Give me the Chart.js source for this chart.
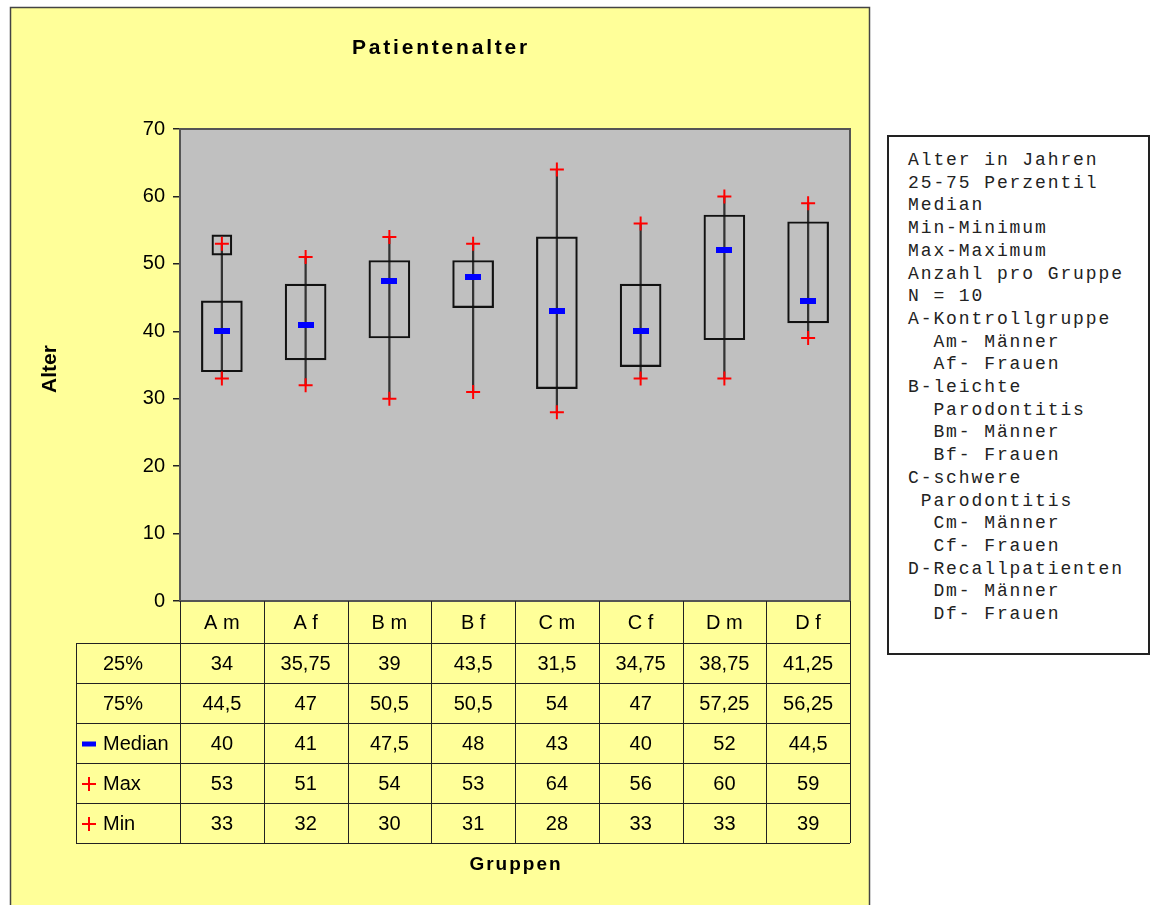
<!DOCTYPE html>
<html>
<head>
<meta charset="utf-8">
<script src="https://cdn.jsdelivr.net/npm/chart.js@4/dist/chart.umd.min.js"></script>
<style>
html,body{margin:0;padding:0;background:#fff;}
#wrap{position:relative;width:1152px;height:905px;overflow:hidden;}
#c{position:absolute;left:0;top:0;}
#note{position:absolute;left:887px;top:135px;width:263px;height:520px;border:2px solid #222;background:#fff;box-sizing:border-box;
  font-family:'Liberation Mono','Courier New',monospace;font-size:18px;letter-spacing:1.9px;line-height:22.7px;white-space:pre;
  padding:12px 0 0 19px;color:#222;}
</style>
</head>
<body>
<div id="wrap">
<canvas id="c" width="1152" height="905"></canvas>
<div id="note"></div>
</div>
<script>
// ---- data ----
const groups   = ['A m','A f','B m','B f','C m','C f','D m','D f'];
const p25      = [34, 35.75, 39, 43.5, 31.5, 34.75, 38.75, 41.25];
const p75      = [44.5, 47, 50.5, 50.5, 54, 47, 57.25, 56.25];
const medians  = [40, 41, 47.5, 48, 43, 40, 52, 44.5];
const maxima   = [53, 51, 54, 53, 64, 56, 60, 59];
const minima   = [33, 32, 30, 31, 28, 33, 33, 39];
const extraLow  = [51.3, null, null, null, null, null, null, null];
const extraHigh = [54.3, null, null, null, null, null, null, null];
const yMin = 0, yMax = 70, yStep = 10;
const rowLabels = ['25%', '75%', 'Median', 'Max', 'Min'];
const titleText = 'Patientenalter';
const yTitle = 'Alter';
const xTitle = 'Gruppen';
const noteLines = [
  'Alter in Jahren',
  '25-75 Perzentil',
  'Median',
  'Min-Minimum',
  'Max-Maximum',
  'Anzahl pro Gruppe',
  'N = 10',
  'A-Kontrollgruppe',
  '  Am- Männer',
  '  Af- Frauen',
  'B-leichte',
  '  Parodontitis',
  '  Bm- Männer',
  '  Bf- Frauen',
  'C-schwere',
  ' Parodontitis',
  '  Cm- Männer',
  '  Cf- Frauen',
  'D-Recallpatienten',
  '  Dm- Männer',
  '  Df- Frauen'
];

document.getElementById('note').textContent = noteLines.join('\n');

// ---- derived ----
const boxes    = groups.map((g, i) => [p25[i], p75[i]]);
const whiskers = groups.map((g, i) => [minima[i], maxima[i]]);
const extra    = groups.map((g, i) => extraLow[i] == null ? null : [extraLow[i], extraHigh[i]]);
const tableRows = [p25, p75, medians, maxima, minima];
const fmt = v => String(v).replace('.', ',');

const medImg = document.createElement('canvas');
medImg.width = 16; medImg.height = 6;
(function(){ const c = medImg.getContext('2d'); c.fillStyle = '#0000FF'; c.fillRect(0,0,16,6); })();

const FONT = "'Liberation Sans', Arial, sans-serif";

function drawCross(ctx, x, y, r) {
  ctx.save();
  ctx.strokeStyle = '#FF0000'; ctx.lineWidth = 2;
  ctx.beginPath();
  ctx.moveTo(x - r, y); ctx.lineTo(x + r, y);
  ctx.moveTo(x, y - r); ctx.lineTo(x, y + r);
  ctx.stroke();
  ctx.restore();
}

const deco = {
  id: 'deco',
  beforeDraw(chart) {
    const {ctx, chartArea: ca} = chart;
    ctx.save();
    ctx.fillStyle = '#FFFF99';
    ctx.fillRect(10, 7, 860, 905);
    ctx.strokeStyle = '#444'; ctx.lineWidth = 1.5;
    ctx.strokeRect(10.5, 7.5, 859, 910);
    ctx.fillStyle = '#C0C0C0';
    ctx.fillRect(ca.left, ca.top, ca.right - ca.left, ca.bottom - ca.top);
    ctx.restore();
  },
  beforeDatasetsDraw(chart) {
    const {ctx, chartArea: ca} = chart;
    ctx.save();
    ctx.strokeStyle = '#555'; ctx.lineWidth = 2;
    ctx.strokeRect(ca.left, ca.top, ca.right - ca.left, ca.bottom - ca.top);
    ctx.restore();
  },
  afterDraw(chart) {
    const {ctx, chartArea: ca, scales: {x}} = chart;
    ctx.save();
    // titles
    ctx.fillStyle = '#000';
    ctx.textAlign = 'center'; ctx.textBaseline = 'middle';
    ctx.font = 'bold 21px ' + FONT;
    ctx.letterSpacing = '2.8px';
    ctx.fillText(titleText, 441, 48);
    ctx.font = 'bold 19px ' + FONT;
    ctx.letterSpacing = '2px';
    ctx.fillText(xTitle, (ca.left + ca.right) / 2 + 1, 865);
    ctx.letterSpacing = '0px';
    ctx.save();
    ctx.translate(50, (ca.top + ca.bottom) / 2 + 4);
    ctx.rotate(-Math.PI / 2);
    ctx.font = 'bold 21px ' + FONT;
    ctx.fillText(yTitle, 0, 0);
    ctx.restore();

    // data table
    const step = x.getPixelForValue(1) - x.getPixelForValue(0);
    const top = ca.bottom, headH = 42, rowH = 40;
    const labelLeft = ca.left - 104;
    const bottom = top + headH + tableRows.length * rowH;
    ctx.strokeStyle = '#222'; ctx.lineWidth = 1;
    ctx.beginPath();
    for (let i = 0; i <= groups.length; i++) {
      const xb = Math.round(x.getPixelForValue(0) - step / 2 + i * step) + 0.5;
      ctx.moveTo(xb, top); ctx.lineTo(xb, bottom);
    }
    ctx.moveTo(labelLeft + 0.5, top + headH); ctx.lineTo(labelLeft + 0.5, bottom);
    for (let r = 0; r <= tableRows.length; r++) {
      const y = Math.round(top + headH + r * rowH) + 0.5;
      ctx.moveTo(labelLeft, y); ctx.lineTo(ca.right, y);
    }
    ctx.stroke();

    ctx.font = '20px ' + FONT;
    for (let r = 0; r < tableRows.length; r++) {
      const yc = top + headH + r * rowH + rowH / 2 + 1;
      ctx.textAlign = 'left';
      ctx.fillStyle = '#000';
      ctx.fillText(rowLabels[r], labelLeft + 27, yc);
      if (r === 2) {
        ctx.fillStyle = '#0000FF';
        ctx.fillRect(labelLeft + 6, yc - 2.5, 14, 5);
      } else if (r >= 3) {
        drawCross(ctx, labelLeft + 13, yc, 7);
      }
      ctx.fillStyle = '#000';
      ctx.textAlign = 'center';
      tableRows[r].forEach((v, i) => {
        ctx.fillText(fmt(v), x.getPixelForValue(i), yc);
      });
    }
    ctx.restore();
  }
};

new Chart(document.getElementById('c'), {
  type: 'bar',
  data: {
    labels: groups,
    datasets: [
      { type: 'line', label: 'Median', data: medians, showLine: false,
        pointStyle: medImg, pointRadius: 8, order: 0 },
      { type: 'line', label: 'Max', data: maxima, showLine: false,
        pointStyle: 'cross', pointRadius: 7, pointBorderWidth: 2, pointBorderColor: '#FF0000', order: 1 },
      { type: 'line', label: 'Min', data: minima, showLine: false,
        pointStyle: 'cross', pointRadius: 7, pointBorderWidth: 2, pointBorderColor: '#FF0000', order: 2 },
      { label: '25-75', data: boxes, backgroundColor: 'rgba(0,0,0,0)', borderColor: '#111',
        borderWidth: 1.5, borderSkipped: false, barThickness: 41, grouped: false, order: 3 },
      { label: 'extra', data: extra, backgroundColor: 'rgba(0,0,0,0)', borderColor: '#111',
        borderWidth: 1.5, borderSkipped: false, barThickness: 20, grouped: false, order: 4 },
      { label: 'Min-Max', data: whiskers, backgroundColor: '#333', borderWidth: 0,
        barThickness: 1.6, grouped: false, order: 5 }
    ]
  },
  options: {
    responsive: false,
    devicePixelRatio: 1,
    animation: false,
    layout: { padding: { left: 0, top: 129, right: 302, bottom: 0 } },
    plugins: { legend: { display: false }, tooltip: { enabled: false }, title: { display: false } },
    scales: {
      x: {
        type: 'category', offset: true,
        grid: { display: false }, border: { display: false },
        ticks: { font: { family: FONT, size: 20 }, color: '#000', padding: 2, maxRotation: 0, autoSkip: false },
        afterFit(s) { s.height = 304; }
      },
      y: {
        min: yMin, max: yMax,
        ticks: { stepSize: yStep, font: { family: FONT, size: 20 }, color: '#000', padding: 8 },
        grid: { drawOnChartArea: false, drawTicks: true, tickLength: 7, color: '#222', lineWidth: 1.5 },
        border: { display: true, color: '#222', width: 2 },
        afterFit(s) { s.width = 180; }
      }
    }
  },
  plugins: [deco]
});
</script>
</body>
</html>
